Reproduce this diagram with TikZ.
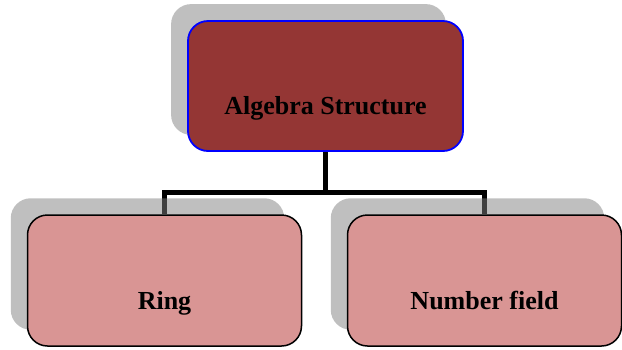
\documentclass[tikz,border=0pt]{standalone}
\usepackage{fontspec}
\setmainfont{Liberation Serif}
\usetikzlibrary{backgrounds,calc}
\definecolor{rootfill}{HTML}{943634}
\definecolor{leaffill}{HTML}{D99594}
\tikzset{
  x=1pt, y=1pt,
  box/.style={rounded corners=20pt, inner sep=0pt, font=\fontsize{26}{30}\selectfont\bfseries,
              text=black, text depth=37pt},
  rootbox/.style={box, fill=rootfill, draw=blue, line width=1.8pt,
                  minimum width=275pt, text height=93pt},
  leafbox/.style={box, fill=leaffill, draw=black, line width=1.5pt,
                  minimum width=274pt, text height=94pt},
  shade/.style={fill=black!50, fill opacity=0.5, rounded corners=20pt},
  link/.style={line width=5pt, draw=black, line join=miter}
}
\begin{document}
\begin{tikzpicture}
\useasboundingbox (0,0) rectangle (622,-349);
% boxes
\node[rootbox] (root) at (325.5,-86) {Algebra Structure};
\node[leafbox] (ring) at (164.5,-280.5) {Ring};
\node[leafbox] (field) at (484.5,-280.5) {Number field};
\coordinate (bus) at (325.5,-192);
\begin{pgfonlayer}{background}
  % connectors
  \draw[link] (root.south) -- (bus) -| (ring.north);
  \draw[link] (bus) -| (field.north);
  % drop shadows behind each box
  \foreach \b in {root,ring,field}{
    \fill[shade] ($(\b.south west)+(-16,17)$) rectangle ($(\b.north east)+(-18,16)$);
  }
\end{pgfonlayer}
\end{tikzpicture}
\end{document}
